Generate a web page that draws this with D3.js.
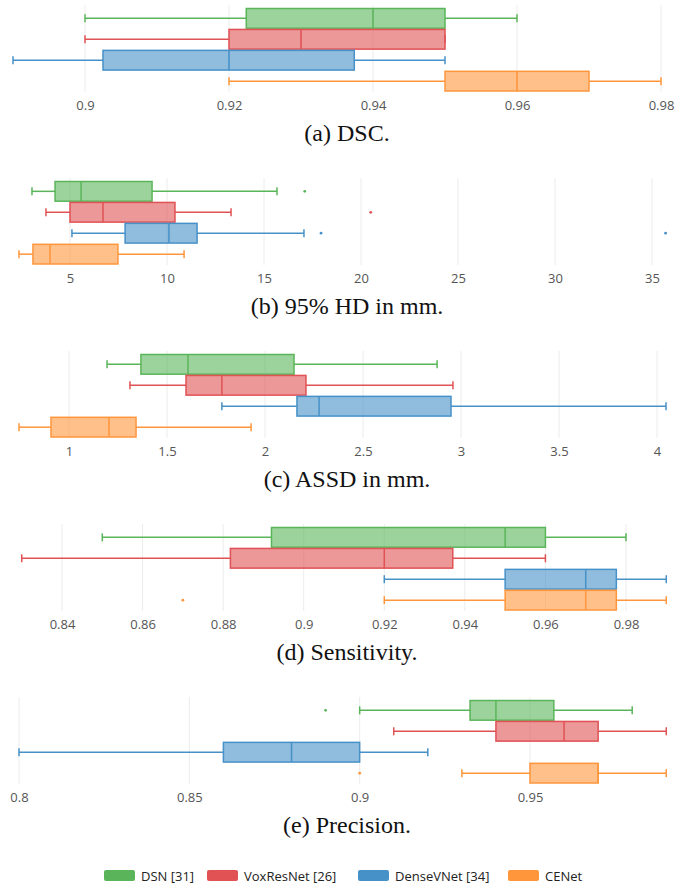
<!DOCTYPE html>
<html>
<head>
<meta charset="utf-8">
<script src="https://cdn.jsdelivr.net/npm/d3@7"></script>
<style>
  body { margin: 0; background: #fff; }
  .tick text { font-family: "Open Sans", sans-serif; font-size: 13px; fill: #555; }
  .caption { font-family: "Liberation Serif", "Times New Roman", serif; font-size: 24px; fill: #111; }
  .legend text { font-family: "Open Sans", sans-serif; font-size: 13px; fill: #222; }
</style>
</head>
<body>
<svg id="chart" width="682" height="884"></svg>
<script>
// models and colours
const models = ["DSN [31]", "VoxResNet [26]", "DenseVNet [34]", "CENet"];
const colors = ["#5ab55a", "#e05254", "#4691c8", "#ff963c"];

// box stats per model: [lower whisker, q1, median, q3, upper whisker]
const dscStats = [
  [0.90, 0.9224, 0.94, 0.95, 0.96],
  [0.90, 0.92, 0.93, 0.95, 0.95],
  [0.89, 0.9025, 0.92, 0.9374, 0.95],
  [0.92, 0.95, 0.96, 0.97, 0.98]
];
const dscOutliers = [[], [], [], []];
const dscTicks = [0.9, 0.92, 0.94, 0.96, 0.98];

const hdStats = [
  [3.04, 4.23, 5.57, 9.23, 15.67],
  [3.76, 5.0, 6.7, 10.41, 13.3],
  [5.1, 7.84, 10.1, 11.55, 17.06],
  [2.37, 3.09, 3.97, 7.47, 10.88]
];
const hdOutliers = [[17.1], [20.5], [17.94, 35.7], []];
const hdTicks = [5, 10, 15, 20, 25, 30, 35];

const assdStats = [
  [1.194, 1.367, 1.607, 2.148, 2.878],
  [1.311, 1.597, 1.78, 2.209, 2.959],
  [1.78, 2.163, 2.276, 2.949, 4.046],
  [0.745, 0.908, 1.204, 1.342, 1.929]
];
const assdOutliers = [[], [], [], []];
const assdTicks = [1, 1.5, 2, 2.5, 3, 3.5, 4];

const sensStats = [
  [0.85, 0.892, 0.95, 0.96, 0.98],
  [0.83, 0.8818, 0.92, 0.937, 0.96],
  [0.92, 0.95, 0.97, 0.9776, 0.99],
  [0.92, 0.95, 0.97, 0.9776, 0.99]
];
const sensOutliers = [[], [], [], [0.87]];
const sensTicks = [0.84, 0.86, 0.88, 0.9, 0.92, 0.94, 0.96, 0.98];

const precStats = [
  [0.90, 0.9324, 0.94, 0.957, 0.98],
  [0.91, 0.94, 0.96, 0.97, 0.99],
  [0.80, 0.86, 0.88, 0.90, 0.92],
  [0.93, 0.95, 0.97, 0.97, 0.99]
];
const precOutliers = [[0.89], [], [], [0.90]];
const precTicks = [0.8, 0.85, 0.9, 0.95];

const captions = ["(a) DSC.", "(b) 95% HD in mm.", "(c) ASSD in mm.", "(d) Sensitivity.", "(e) Precision."];

// layout of each panel: first/last tick value pinned to pixel x
const panels = [
  { stats: dscStats, outliers: dscOutliers, ticks: dscTicks, px: [85, 661] },
  { stats: hdStats, outliers: hdOutliers, ticks: hdTicks, px: [70, 652] },
  { stats: assdStats, outliers: assdOutliers, ticks: assdTicks, px: [69, 657] },
  { stats: sensStats, outliers: sensOutliers, ticks: sensTicks, px: [62, 626] },
  { stats: precStats, outliers: precOutliers, ticks: precTicks, px: [19, 530] }
];

const svg = d3.select("#chart");
const panelStep = 173, firstRow = 19;

panels.forEach((p, i) => {
  const top = firstRow + i * panelStep;
  const g = svg.append("g");

  const x = d3.scaleLinear()
    .domain([p.ticks[0], p.ticks[p.ticks.length - 1]])
    .range(p.px);

  const y = d3.scaleBand()
    .domain(models)
    .range([top - 10.5, top + 72])
    .paddingInner(0.06);
  const bh = y.bandwidth();

  // grid
  g.selectAll(".grid").data(p.ticks).join("line")
    .attr("x1", d => x(d)).attr("x2", d => x(d))
    .attr("y1", top - 14).attr("y2", top + 73)
    .attr("stroke", "#ececec").attr("stroke-width", 1);

  // axis
  const axis = g.append("g")
    .attr("transform", "translate(0," + (top + 74) + ")")
    .call(d3.axisBottom(x).tickValues(p.ticks).tickSize(0).tickPadding(8).tickFormat(d => String(+d.toFixed(3))));
  axis.select(".domain").remove();

  // boxes
  models.forEach((m, k) => {
    const s = p.stats[k];
    const c = colors[k];
    const cy = y(m) + bh / 2;
    const bg = g.append("g");

    bg.append("line")
      .attr("x1", x(s[0])).attr("x2", x(s[1]))
      .attr("y1", cy).attr("y2", cy)
      .attr("stroke", c).attr("stroke-width", 1.5);
    bg.append("line")
      .attr("x1", x(s[3])).attr("x2", x(s[4]))
      .attr("y1", cy).attr("y2", cy)
      .attr("stroke", c).attr("stroke-width", 1.5);
    [s[0], s[4]].forEach(v => {
      bg.append("line")
        .attr("x1", x(v)).attr("x2", x(v))
        .attr("y1", cy - 4).attr("y2", cy + 4)
        .attr("stroke", c).attr("stroke-width", 1.5);
    });
    bg.append("rect")
      .attr("x", x(s[1])).attr("y", y(m))
      .attr("width", x(s[3]) - x(s[1])).attr("height", bh)
      .attr("fill", c).attr("fill-opacity", 0.6)
      .attr("stroke", c).attr("stroke-width", 1.5);
    bg.append("line")
      .attr("x1", x(s[2])).attr("x2", x(s[2]))
      .attr("y1", y(m)).attr("y2", y(m) + bh)
      .attr("stroke", c).attr("stroke-width", 1.5);

    bg.selectAll("circle").data(p.outliers[k]).join("circle")
      .attr("cx", d => x(d)).attr("cy", cy).attr("r", 1.4)
      .attr("fill", c);
  });

  svg.append("text")
    .attr("class", "caption")
    .attr("x", 347).attr("y", top + 122)
    .attr("text-anchor", "middle")
    .text(captions[i]);
});

// legend
const legendX = [104, 207, 358, 508];
const legend = svg.append("g").attr("class", "legend");
models.forEach((m, k) => {
  legend.append("rect")
    .attr("x", legendX[k]).attr("y", 870)
    .attr("width", 31).attr("height", 11).attr("rx", 2)
    .attr("fill", colors[k]);
  legend.append("text")
    .attr("x", legendX[k] + 37).attr("y", 881)
    .text(m);
});
</script>
</body>
</html>
